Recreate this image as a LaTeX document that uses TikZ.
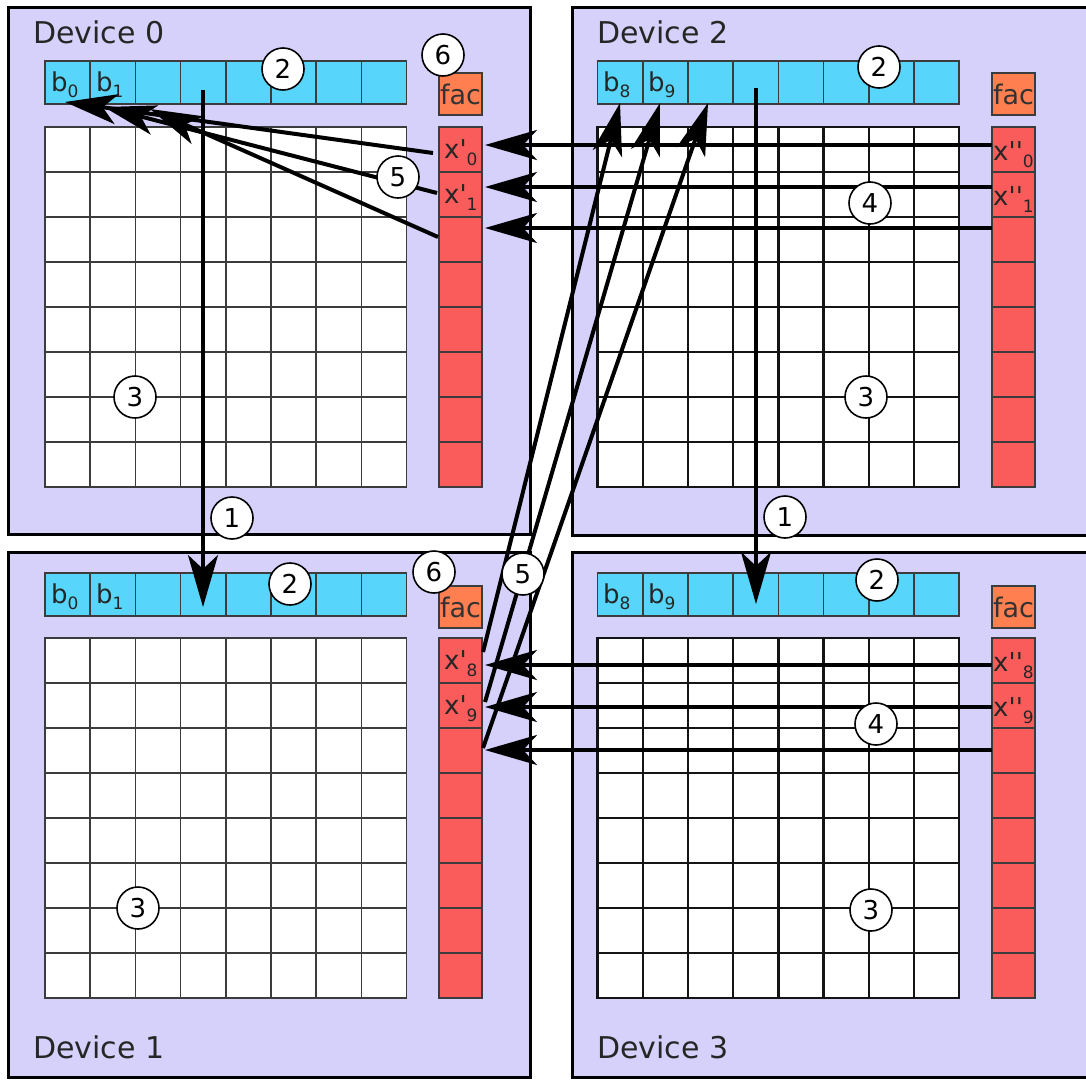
\documentclass[tikz,border=0pt]{standalone}
\usepackage{fontspec}
\setmainfont{DejaVu Sans}[Ligatures=TeXOff]
\usetikzlibrary{arrows.meta}
\definecolor{devbg}{RGB}{213,209,250}
\definecolor{bluec}{RGB}{88,213,250}
\definecolor{redc}{RGB}{250,92,92}
\definecolor{facc}{RGB}{255,127,80}
\definecolor{cellline}{RGB}{60,60,60}
\newcommand\lowsub[2]{\raisebox{-#2pt}{\fontsize{17}{17}\selectfont #1}}
\newcommand\apos{\symbol{39}}
\begin{document}
\begin{tikzpicture}[x=1pt,y=-1pt,
 devbox/.style={draw=black,line width=3pt,fill=devbg,anchor=north west,inner sep=0pt,outer sep=0pt},
 cell/.style={draw=cellline,line width=1.6pt,anchor=north west,inner sep=0pt,outer sep=0pt},
 gcell/.style={cell,fill=white,minimum width=45.2pt,minimum height=45pt},
 bcell/.style={cell,fill=bluec,minimum width=45.2pt,minimum height=43pt},
 rcell/.style={cell,fill=redc,minimum width=43pt,minimum height=45pt},
 fcell/.style={cell,fill=facc,minimum width=43pt,minimum height=42pt,font=\fontsize{27}{27}\selectfont,text=black!80},
 lab/.style={anchor=base west,inner sep=0pt,font=\fontsize{26}{26}\selectfont,text=black!85},
 devlab/.style={anchor=base west,inner sep=0pt,font=\fontsize{30}{30}\selectfont,text=black!85},
 num/.style={circle,draw=black,line width=1.6pt,fill=white,minimum size=42pt,inner sep=0pt,font=\fontsize{26}{26}\selectfont},
 arr/.style={line width=4pt,-{Stealth[length=52pt,width=30pt,inset=14pt]}},
]
\useasboundingbox (0,0) rectangle (1086,1079);
\clip (0,0) rectangle (1086,1079);

% devices, vectors, matrices, columns
\foreach \d/\bx/\by/\bw/\bh/\gx/\yb/\yg/\rx/\yf/\gw/\gc in
 {0/8/7/522/527/45/61/127/439/73/1.6/60,
  2/572/7/530/528/597.5/61/127/992/73/2.4/20,
  1/8/552/522/525/45/573/638/439/586/1.6/60,
  3/572/552/530/525/597.5/573/638/992/586/2.4/20}{
  \node[devbox,minimum width=\bw,minimum height=\bh] (dev\d) at (\bx,\by) {};
  \foreach \c in {0,...,7}{
    \node[bcell] (d\d-b-\c) at ({\gx+45.2*\c},\yb) {};
  }
  \definecolor{gline}{RGB}{\gc,\gc,\gc}
  \foreach \r in {0,...,7}{
    \foreach \c in {0,...,7}{
      \node[gcell,draw=gline,line width=\gw] (d\d-g-\r-\c) at ({\gx+45.2*\c},{\yg+45*\r}) {};
    }
    \node[rcell] (d\d-r-\r) at (\rx,{\yg+45*\r}) {};
  }
  \node[fcell] (d\d-fac) at (\rx,\yf) {fac};
}

% device labels
\node[devlab] (lab0) at (33,43) {Device 0};
\node[devlab] (lab2) at (597,43) {Device 2};
\node[devlab] (lab1) at (33,1058) {Device 1};
\node[devlab] (lab3) at (597,1058) {Device 3};

% cell labels
\node[lab] (tb0a) at (51,91) {b\lowsub{0}{6}};
\node[lab] (tb1a) at (96,91) {b\lowsub{1}{6}};
\node[lab] (tb8a) at (603,91) {b\lowsub{8}{6}};
\node[lab] (tb9a) at (648,91) {b\lowsub{9}{6}};
\node[lab] (tb0b) at (51,603) {b\lowsub{0}{6}};
\node[lab] (tb1b) at (96,603) {b\lowsub{1}{6}};
\node[lab] (tb8b) at (603,603) {b\lowsub{8}{6}};
\node[lab] (tb9b) at (648,603) {b\lowsub{9}{6}};

\node[lab] (tx0) at (444,158) {x\apos\lowsub{0}{7}};
\node[lab] (tx1) at (444,203) {x\apos\lowsub{1}{7}};
\node[lab] (tx8) at (444,669) {x\apos\lowsub{8}{7}};
\node[lab] (tx9) at (444,714) {x\apos\lowsub{9}{7}};
\node[lab] (txx0) at (993,160) {x\apos\apos\lowsub{0}{7}};
\node[lab] (txx1) at (993,205) {x\apos\apos\lowsub{1}{7}};
\node[lab] (txx8) at (993,671) {x\apos\apos\lowsub{8}{7}};
\node[lab] (txx9) at (993,716) {x\apos\apos\lowsub{9}{7}};

% arrow end points
\coordinate (v0s) at (203,90);  \coordinate (v0t) at (203,607);
\coordinate (v2s) at (756,88);  \coordinate (v2t) at (756,604);
\coordinate (h0s) at (992,145); \coordinate (h0t) at (485,145);
\coordinate (h1s) at (992,187); \coordinate (h1t) at (485,187);
\coordinate (h2s) at (992,228); \coordinate (h2t) at (485,228);
\coordinate (h8s) at (992,665); \coordinate (h8t) at (485,665);
\coordinate (h9s) at (992,707); \coordinate (h9t) at (485,707);
\coordinate (hXs) at (992,750); \coordinate (hXt) at (485,750);
\coordinate (p0s) at (433,153); \coordinate (p0t) at (65,102);
\coordinate (p1s) at (437,193); \coordinate (p1t) at (104,107);
\coordinate (p2s) at (438,237); \coordinate (p2t) at (150,109);
\coordinate (q8s) at (483,652); \coordinate (q8t) at (620,103);
\coordinate (q9s) at (485,702); \coordinate (q9t) at (660,103);
\coordinate (qXs) at (483,748); \coordinate (qXt) at (708,103);

% arrows
\draw[arr] (v0s) -- (v0t);
\draw[arr] (v2s) -- (v2t);
\draw[arr] (h0s) -- (h0t);
\draw[arr] (h1s) -- (h1t);
\draw[arr] (h2s) -- (h2t);
\draw[arr] (h8s) -- (h8t);
\draw[arr] (h9s) -- (h9t);
\draw[arr] (hXs) -- (hXt);
\draw[arr] (p0s) -- (p0t);
\draw[arr] (p1s) -- (p1t);
\draw[arr] (p2s) -- (p2t);
\draw[arr] (q8s) -- (q8t);
\draw[arr] (q9s) -- (q9t);
\draw[arr] (qXs) -- (qXt);

% step numbers
\node[num] (n0a) at (283,69) {2};
\node[num] (n0b) at (443,55) {6};
\node[num] (n0c) at (398,177) {5};
\node[num] (n0d) at (135,397) {3};
\node[num] (n0e) at (232,518) {1};
\node[num] (n2a) at (879,67) {2};
\node[num] (n2b) at (870,203) {4};
\node[num] (n2c) at (866,397) {3};
\node[num] (n2d) at (785,517) {1};
\node[num] (n1a) at (290,584) {2};
\node[num] (n1b) at (434,572) {6};
\node[num] (n1c) at (523,574) {5};
\node[num] (n1d) at (138,908) {3};
\node[num] (n3a) at (877,580) {2};
\node[num] (n3b) at (876,724) {4};
\node[num] (n3c) at (871,910) {3};
\end{tikzpicture}
\end{document}
